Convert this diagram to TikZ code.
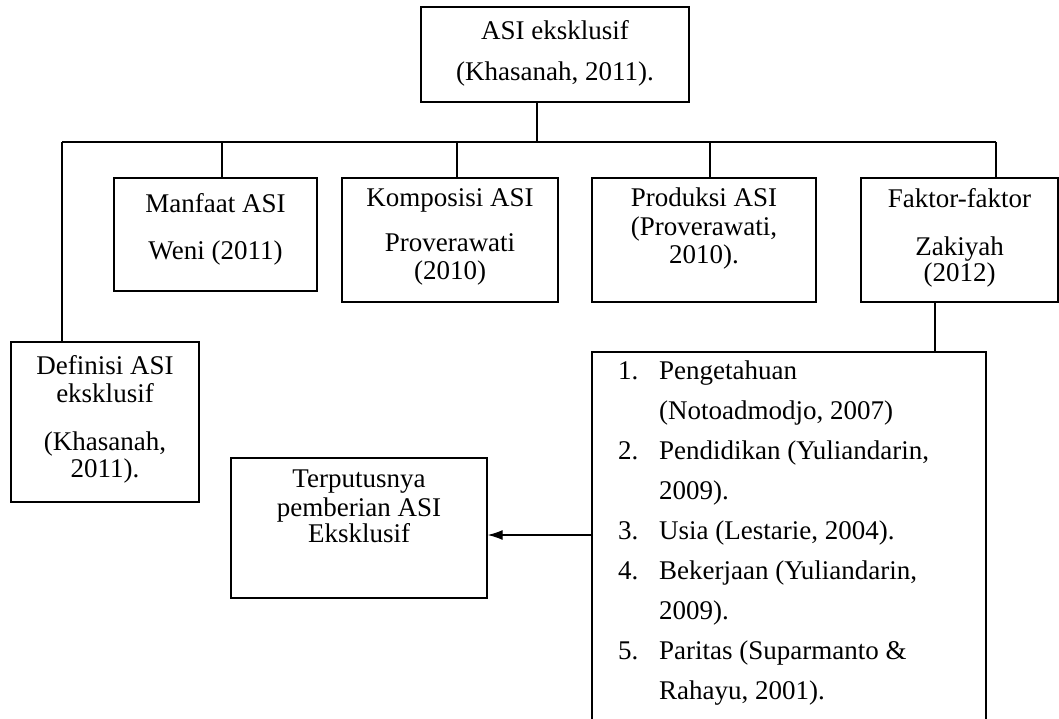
\documentclass[tikz,border=0pt]{standalone}
\usepackage{fontspec}
\setmainfont{Liberation Serif}
\usetikzlibrary{arrows.meta}
\begin{document}
\begin{tikzpicture}[x=1pt,y=-1pt,
  boxst/.style={draw=black,line width=1.3pt,inner sep=0pt,rectangle},
  txt/.style={inner sep=0pt,align=center,anchor=north,font=\fontsize{27}{29}\selectfont},
  listtxt/.style={inner sep=0pt,align=left,anchor=north west,font=\fontsize{27}{40}\selectfont},
  conn/.style={draw=black,line width=1.3pt},
  arr/.style={conn,-{Latex[length=15pt,width=10pt]}}]
\useasboundingbox (0,0) rectangle (1059,719);
% boxes
\node[boxst,minimum width=268pt,minimum height=95pt] (top) at (555,54.5) {};
\node[boxst,minimum width=203pt,minimum height=113pt] (manfaat) at (215.5,234.5) {};
\node[boxst,minimum width=216pt,minimum height=124pt] (komposisi) at (450,240) {};
\node[boxst,minimum width=224pt,minimum height=124pt] (produksi) at (704,240) {};
\node[boxst,minimum width=197pt,minimum height=124pt] (faktor) at (959.5,240) {};
\node[boxst,minimum width=188pt,minimum height=160pt] (definisi) at (105,422) {};
\node[boxst,minimum width=256pt,minimum height=140pt] (terp) at (359,528) {};
\node[boxst,minimum width=394pt,minimum height=400pt] (list) at (789,552) {};
% texts
\node[txt] (topT) at (555,20) {ASI eksklusif\\[12pt](Khasanah, 2011).};
\node[txt] (manfaatT) at (215.5,193) {Manfaat ASI\\[18pt]Weni (2011)};
\node[txt] (komposisiT) at (450,188) {Komposisi ASI\\[16pt]Proverawati\\[-1pt](2010)};
\node[txt] (produksiT) at (704,188) {Produksi ASI\\(Proverawati,\\[-1pt]2010).};
\node[txt] (faktorT) at (959.5,188) {Faktor-faktor\\[19pt]Zakiyah\\[-3pt](2012)};
\node[txt] (definisiT) at (105,355) {Definisi ASI\\[-1pt]eksklusif\\[19pt](Khasanah,\\[-2pt]2011).};
\node[txt] (terpT) at (359,470) {Terputusnya\\pemberian ASI\\[-3pt]Eksklusif};
\node[listtxt] (listT) at (618,361) {%
\makebox[41pt][l]{1.}Pengetahuan\\
\makebox[41pt][l]{}(Notoadmodjo, 2007)\\
\makebox[41pt][l]{2.}Pendidikan (Yuliandarin,\\
\makebox[41pt][l]{}2009).\\
\makebox[41pt][l]{3.}Usia (Lestarie, 2004).\\
\makebox[41pt][l]{4.}Bekerjaan (Yuliandarin,\\
\makebox[41pt][l]{}2009).\\
\makebox[41pt][l]{5.}Paritas (Suparmanto \&\\
\makebox[41pt][l]{}Rahayu, 2001).};
% connectors
\coordinate (j) at (537,142);
\coordinate (jl) at (62,142);
\coordinate (jr) at (996,142);
\coordinate (jm) at (222,142);
\coordinate (jk) at (457,142);
\coordinate (jp) at (710,142);
\draw[conn] (top.south -| j) -- (j);
\draw[conn] (jl) -- (jr);
\draw[conn] (jl) -- (jl |- definisi.north);
\draw[conn] (jm) -- (jm |- manfaat.north);
\draw[conn] (jk) -- (jk |- komposisi.north);
\draw[conn] (jp) -- (jp |- produksi.north);
\draw[conn] (jr) -- (jr |- faktor.north);
\coordinate (fl) at (935,302);
\draw[conn] (fl |- faktor.south) -- (fl |- list.north);
\coordinate (a1) at (592,535);
\draw[arr] (a1 -| list.west) -- (a1 -| terp.east);
\end{tikzpicture}
\end{document}
